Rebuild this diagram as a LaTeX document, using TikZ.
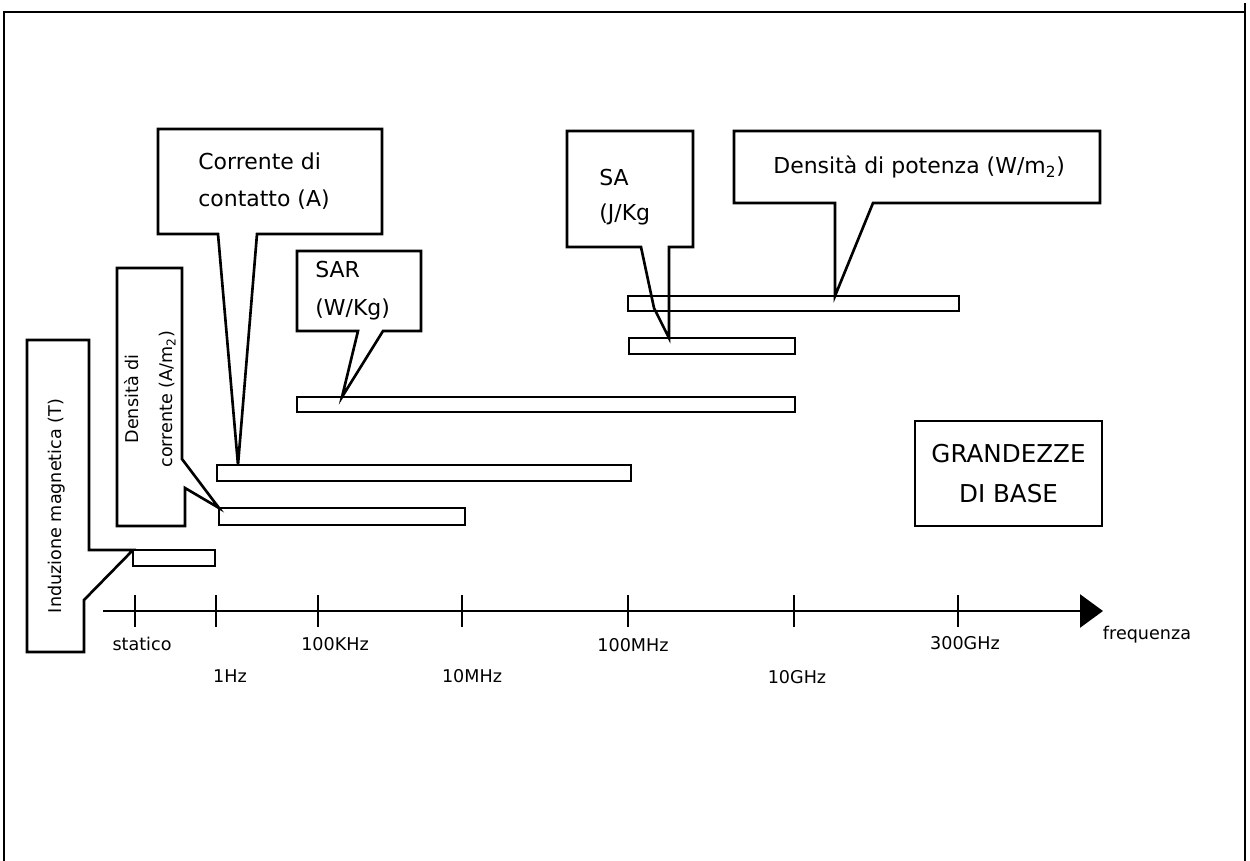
\documentclass[tikz,border=0pt]{standalone}
\usepackage{fontspec}
\setmainfont{DejaVu Sans}
\usetikzlibrary{arrows.meta}
\tikzset{
  outline/.style = {line width = 1.5pt, line join = miter},
  callout/.style = {font = \fontsize{12.5}{21.5}\selectfont, align = left, inner sep = 0pt},
  axislabel/.style = {font = \fontsize{10}{12}\selectfont, inner sep = 0pt},
}

\begin{document}
\begin{tikzpicture}[x = 0.02cm, y = -0.02cm, >=latex]
\useasboundingbox (0,0) rectangle (1250,861);
% frame
\draw[line width = 1.2pt] (4,861) -- (4,12) -- (1245,12);
\draw[line width = 1.2pt] (1245,3) -- (1245,861);

% bars
\draw[outline] (133,550) rectangle (215,566);
\draw[outline] (219,508) rectangle (465,525);
\draw[outline] (217,465) rectangle (631,481);
\draw[outline] (297,397) rectangle (795,412);
\draw[outline] (629,338) rectangle (795,354);
\draw[outline] (628,296) rectangle (959,311);

% pointer tips
\coordinate (tipB) at (133,550);
\coordinate (tipJ) at (219,508);
\coordinate (tipA) at (238,465);
\coordinate (tipS) at (342,397);
\coordinate (tipSA) at (669,338);
\coordinate (tipP) at (835,296);

% callouts
\draw[outline] (27,340) -- (89,340) -- (89,550) -- (tipB) -- (84,600) -- (84,652) -- (27,652) -- cycle;
\draw[outline] (117,268) -- (182,268) -- (182,459) -- (tipJ) -- (185,488) -- (185,526) -- (117,526) -- cycle;
\draw[outline] (158,129) -- (382,129) -- (382,234) -- (257,234) -- (tipA) -- (218,234) -- (158,234) -- cycle;
\draw[outline] (297,251) -- (421,251) -- (421,331) -- (383,331) -- (tipS) -- (358,331) -- (297,331) -- cycle;
\draw[outline] (567,131) -- (693,131) -- (693,247) -- (669,247) -- (tipSA) -- (654,308) -- (641,247) -- (567,247) -- cycle;
\draw[outline] (734,131) -- (1100,131) -- (1100,203) -- (873,203) -- (tipP) -- (835,203) -- (734,203) -- cycle;

\node[callout, rotate = 90, font = \fontsize{10}{12}\selectfont] (induz) at (57,506) {Induzione magnetica (T)};
\node[callout, rotate = 90, align = center, font = \fontsize{10}{19.3}\selectfont] (dens) at (150,399) {Densità di\\corrente (A/m\textsubscript{2})};
\node[callout, anchor = west] (contatto) at (198,181) {Corrente di\\contatto (A)};
\node[callout, anchor = west] (sar) at (315,291) {SAR\\(W/Kg)};
\node[callout, anchor = west, font = \fontsize{12.5}{19.8}\selectfont] (sa) at (599,197) {SA\\(J/Kg};
\node[callout, anchor = west] (potenza) at (773,167) {Densità di potenza (W/m\textsubscript{2})};

\node[draw, outline, minimum width = 3.74cm, minimum height = 2.1cm, align = center,
      font = \fontsize{14}{22.7}\selectfont] (base) at (1008.5,473.5) {GRANDEZZE\\DI BASE};

% frequency axis
\coordinate (o) at (103,611);
\coordinate (e) at (1103,611);
\draw[outline, -{Triangle[length = 0.46cm, width = 0.66cm]}] (o) -- (e);
\foreach \x/\lx/\ly/\lab in {135/142/644/statico, 216/230/676/1Hz, 318/335/644/100KHz,
  462/472/676/10MHz, 628/633/645/100MHz, 794/797/677/10GHz, 958/965/643/300GHz}{
  \draw[outline] (\x,595) -- (\x,627);
  \node[axislabel] (t\x) at (\lx,\ly) {\lab};
}
\node[axislabel] (freq) at (1147,635) {frequenza};
\end{tikzpicture}
\end{document}
